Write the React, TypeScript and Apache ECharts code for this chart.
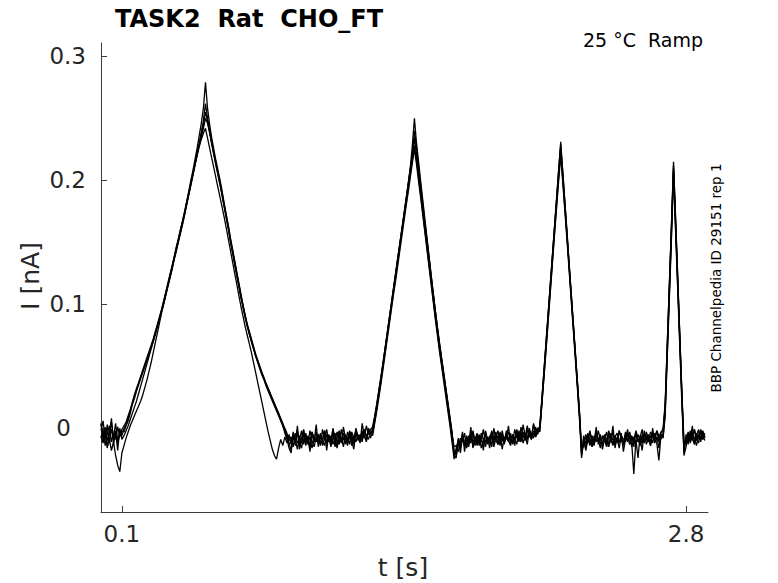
import React, { useEffect, useRef } from "react";
import * as echarts from "echarts";

// Sample step of the recorded traces (seconds); values below are in pA (1e-3 nA).
const SAMPLE_STEP_S = 0.01;

// Each trace: list of [segment start time (s), sampled values (pA)]
const TRACE_A: [number, number[]][] = [
  [0.0, [-2, 6, -9, 3, -12, -1, -7, 4, -10, -3, -6]],
  [0.11, [0, 3, 8, 14, 20, 26, 31, 36, 41, 46, 51, 56, 61, 66, 71, 77, 83, 89, 95, 102, 109, 116, 123, 130, 138, 145, 152, 160, 167, 175, 183, 191, 200, 208, 217, 226, 236, 246, 258, 279, 258, 245, 234, 225, 216, 208, 200, 191, 181, 172, 163, 153, 144, 135, 126, 117, 108, 99, 91, 83, 77, 71, 65, 59, 54, 49, 44, 40, 35, 31, 27, 23, 19, 15, 11, 7, 3, 0, -4, -12]],
  [0.91, [-18, -6, -14, -3, -11, -16, -5, -9, -13, -2, -10, -15, -7, -12, -4, -14, -8, -1, -11, -6, -13, -9, -3, -12, -7, -15, -5, -10, -2, -8, -13, -4, -9, -6, -11, -1, -7, -3, -8]],
  [1.3, [-2, 8, 18, 29, 40, 52, 64, 76, 88, 100, 112, 124, 136, 148, 160, 172, 184, 197, 210, 228, 250, 230, 215, 199, 184, 169, 154, 139, 124, 109, 95, 81, 68, 56, 44, 32, 20, 8, -4, -18]],
  [1.7, [-22, -12, -16, -7, -13, -9, -15, -4, -11, -8, -14, -5, -10, -13, -3, -9, -12, -6, -15, -8, -2, -11, -7, -13, -4, -9, -6, -12, -1, -8, -5, -10, -3, -7, 2, -6, -9, -2, -5, 0]],
  [2.1, [0, 22, 45, 68, 91, 114, 137, 160, 183, 207, 231, 207, 183, 159, 134, 110, 86, 62, 38, 13, -16]],
  [2.31, [-10, -17, -6, -12, -8, -14, -3, -11, -7, -13, -5, -9, -15, -4, -10, -8, -12, -2, -9, -14, -6, -11, -3, -10, -7, -13, -5, -9, -12, -4, -8, -11, -3, -7, -10, -2, -6, -9]],
  [2.69, [-4, 18, 67, 115, 163, 215, 168, 121, 74, 27, -14]],
  [2.8, [-9, -3, -12, -6, -1, -10, -5, -8, -2, -7]],
];

const TRACE_B: [number, number[]][] = [
  [0.0, [-8, -1, -14, -5, 2, -11, -4, -9, 1, -7, -2]],
  [0.11, [-3, 2, 6, 12, 19, 24, 30, 35, 40, 45, 50, 55, 60, 65, 70, 76, 82, 88, 94, 101, 108, 115, 122, 129, 137, 144, 151, 158, 166, 173, 181, 189, 197, 205, 213, 222, 230, 239, 248, 262, 250, 240, 231, 222, 214, 206, 198, 189, 180, 171, 162, 152, 143, 134, 125, 116, 107, 99, 91, 84, 78, 72, 66, 60, 55, 50, 45, 41, 36, 32, 28, 24, 20, 16, 12, 8, 4, -1, -6, -10]],
  [0.91, [-7, -15, -4, -12, -9, -2, -13, -6, -10, -16, -3, -8, -11, -5, -14, -1, -9, -12, -6, -10, -4, -15, -7, -2, -11, -8, -13, -3, -9, -5, -12, 0, -7, -10, -4, -8, 2, -5, -1]],
  [1.3, [1, 10, 20, 31, 42, 53, 65, 77, 89, 101, 113, 125, 137, 149, 160, 172, 184, 196, 208, 220, 234, 221, 207, 193, 179, 165, 151, 137, 122, 108, 94, 80, 67, 55, 43, 31, 19, 7, -6, -15]],
  [1.7, [-14, -19, -8, -11, -4, -15, -7, -12, -2, -10, -6, -13, -9, -1, -12, -7, -16, -5, -9, -3, -13, -8, -5, -11, -2, -10, -14, -6, -8, -3, -11, 1, -7, -4, -9, -1, -6, 3, -4, -2]],
  [2.1, [-2, 20, 42, 65, 88, 111, 134, 157, 180, 202, 224, 201, 178, 155, 131, 107, 83, 59, 35, 10, -18]],
  [2.31, [-14, -7, -11, -3, -9, -13, -5, -10, -16, -6, -8, -12, -2, -9, -14, -7, -4, -11, -8, -13, -3, -10, -6, -15, -9, -5, -11, -7, -1, -12, -6, -9, -14, -4, -8, -2, -11, -5]],
  [2.69, [-7, 12, 60, 108, 156, 208, 162, 116, 70, 24, -18]],
  [2.8, [-5, -11, -2, -8, -13, -4, -9, -1, -6, -10]],
];

const TRACE_C: [number, number[]][] = [
  [0.0, [3, -6, -1, -10, -4, 5, -8, -2, -12, -5, -1]],
  [0.11, [2, 5, 10, 15, 21, 27, 32, 37, 42, 47, 52, 57, 62, 67, 72, 78, 84, 90, 96, 103, 110, 117, 124, 131, 138, 146, 153, 160, 167, 174, 182, 190, 198, 206, 214, 221, 228, 235, 242, 250, 246, 238, 229, 221, 213, 205, 197, 188, 179, 170, 161, 151, 142, 133, 124, 115, 106, 98, 90, 83, 76, 70, 64, 58, 53, 48, 43, 39, 34, 30, 26, 22, 18, 14, 10, 6, 2, -2, -7, -13]],
  [0.91, [-11, -4, -9, -17, -6, -12, -2, -10, -7, -14, -3, -11, -8, -5, -13, -9, -2, -12, -6, -15, -8, -4, -10, -13, -1, -9, -6, -11, -4, -14, -7, -2, -10, -5, -8, -1, -6, -9, -3]],
  [1.3, [-4, 6, 16, 27, 38, 50, 62, 74, 86, 98, 110, 122, 134, 146, 158, 170, 181, 193, 205, 216, 228, 216, 202, 188, 174, 160, 146, 132, 118, 104, 90, 77, 64, 52, 41, 29, 17, 5, -8, -21]],
  [1.7, [-18, -9, -13, -5, -11, -16, -6, -10, -3, -14, -8, -12, -4, -9, -15, -7, -11, -2, -10, -6, -13, -4, -9, -12, -7, -3, -11, -5, -9, -13, -2, -8, -6, -10, -1, -7, -4, -8, 1, -5]],
  [2.1, [1, 23, 46, 69, 92, 115, 138, 161, 183, 205, 226, 203, 180, 156, 132, 108, 84, 60, 36, 11, -20]],
  [2.31, [-8, -13, -4, -10, -15, -6, -11, -2, -9, -12, -7, -14, -5, -10, -3, -12, -8, -16, -6, -9, -11, -4, -13, -7, -10, -2, -8, -14, -5, -11, -3, -9, -6, -12, -4, -10, -7, -3]],
  [2.69, [-2, 16, 64, 112, 160, 210, 165, 119, 73, 28, -10]],
  [2.8, [-12, -6, -10, -3, -8, -14, -5, -2, -9, -4]],
];

const TRACE_D: [number, number[]][] = [
  [0.0, [-6, -12, -3, -15, -9, -18, -11, -22, -30, -35, -20]],
  [0.11, [-14, -8, -3, 2, 6, 10, 14, 18, 22, 27, 33, 39, 46, 53, 61, 69, 77, 85, 93, 100, 107, 114, 121, 128, 136, 143, 150, 157, 164, 172, 180, 188, 196, 204, 212, 220, 227, 233, 238, 242, 234, 226, 218, 210, 202, 194, 186, 178, 170, 161, 152, 143, 134, 125, 116, 107, 98, 90, 82, 75, 68, 61, 53, 45, 37, 29, 21, 13, 5, -3, -10, -17, -22, -25, -16, -9, -14, -7, -12, -5]],
  [0.91, [-13, -6, -10, -2, -15, -8, -11, -4, -12, -7, -16, -9, -3, -13, -6, -10, -14, -5, -8, -12, -1, -9, -15, -6, -11, -4, -10, -7, -13, -3, -8, -11, -5, -9, -2, -6, -10, 0, -4]],
  [1.3, [-6, 4, 14, 25, 36, 48, 60, 72, 84, 96, 108, 119, 131, 143, 155, 167, 179, 190, 202, 214, 225, 213, 199, 186, 172, 158, 144, 130, 116, 102, 88, 75, 62, 50, 38, 26, 14, 2, -11, -25]],
  [1.7, [-16, -10, -20, -7, -14, -9, -12, -4, -15, -8, -11, -6, -16, -10, -5, -13, -8, -3, -12, -9, -6, -14, -2, -10, -7, -11, -4, -13, -8, -5, -10, -3, -12, -6, -9, 0, -8, -4, -7, -1]],
  [2.1, [-3, 19, 41, 63, 86, 109, 132, 155, 177, 199, 220, 198, 175, 152, 128, 104, 80, 56, 32, 7, -22]],
  [2.31, [-12, -5, -9, -14, -6, -11, -3, -8, -13, -7, -10, -15, -4, -9, -12, -6, -11, -2, -8, -13, -5, -10, -7, -12, -37, -9, -24, -6, -11, -4, -13, -8, -10, -3, -9, -12, -26, -5]],
  [2.69, [-8, 10, 57, 104, 152, 205, 158, 112, 66, 20, -20]],
  [2.8, [-7, -13, -4, -10, -1, -8, -12, -3, -9, -6]],
];

const TRACE_E: [number, number[]][] = [
  [0.0, [4, -10, 1, -16, -5, 8, -13, -3, -18, 0, -9]],
  [0.11, [-6, -2, 2, 7, 12, 17, 22, 28, 34, 40, 46, 52, 58, 64, 70, 76, 82, 88, 95, 101, 108, 115, 122, 129, 136, 143, 151, 158, 165, 173, 181, 189, 197, 205, 213, 221, 229, 237, 245, 255, 248, 239, 230, 221, 212, 204, 196, 187, 178, 169, 160, 150, 141, 132, 123, 114, 105, 97, 89, 82, 76, 70, 64, 59, 54, 49, 45, 40, 36, 32, 28, 24, 20, 16, 12, 7, 2, -4, -9, -16]],
  [0.91, [-20, -3, -12, 2, -17, -8, -1, -14, -6, -19, -4, -11, 3, -15, -7, -10, -2, -18, -5, -13, 0, -9, -16, -4, -12, 1, -8, -14, -3, -10, -17, -2, -7, -12, 4, -6, -11, -1, -5]],
  [1.3, [0, 9, 19, 30, 41, 53, 65, 77, 89, 101, 113, 125, 137, 149, 161, 173, 185, 197, 209, 221, 240, 226, 211, 196, 181, 166, 152, 137, 123, 109, 95, 82, 69, 57, 45, 33, 21, 9, -3, -22]],
  [1.7, [-24, -8, -15, -3, -19, -6, -12, 1, -16, -9, -4, -14, -7, -18, -2, -11, -6, -15, 0, -10, -13, -3, -17, -7, -9, 2, -12, -5, -14, -1, -8, -11, 3, -6, -13, -2, -9, 4, -7, -3]],
  [2.1, [2, 24, 47, 70, 93, 116, 139, 162, 185, 208, 229, 206, 182, 158, 133, 109, 85, 61, 37, 12, -24]],
  [2.31, [-6, -18, -9, -2, -15, -11, 1, -13, -5, -17, -8, -3, -14, -10, 2, -16, -7, -12, -4, -19, -9, -1, -13, -6, -15, -3, -11, -8, -18, -2, -10, -5, -14, 0, -12, -7, -16, -4]],
  [2.69, [0, 20, 68, 116, 164, 212, 170, 123, 76, 30, -22]],
  [2.8, [-15, -4, -10, 2, -13, -6, -1, -11, -3, -8]],
];

const TRACES = [TRACE_A, TRACE_B, TRACE_C, TRACE_D, TRACE_E];
const X_TICKS = [0.1, 2.8];
const Y_TICKS = [0, 0.1, 0.2, 0.3];

const FONT = "DejaVu Sans";
const TXT = "#262626";
const AXC = "#3c3c3c";

function toPoints(segs: [number, number[]][]) {
  const pts: number[][] = [];
  for (const [t0, vals] of segs) {
    vals.forEach((v, k) => {
      pts.push([Math.round((t0 + k * SAMPLE_STEP_S) * 1000) / 1000, v / 1000]);
    });
  }
  return pts;
}

export default function App() {
  const ref = useRef<HTMLDivElement>(null);
  useEffect(() => {
    document.body.style.margin = "0";
    const chart = echarts.init(ref.current!, null, { renderer: "svg" });
    chart.setOption({
      animation: false,
      backgroundColor: "#ffffff",
      grid: { left: 101, right: 70, top: 43, bottom: 71, containLabel: false },
      xAxis: {
        type: "value",
        min: 0,
        max: 2.905,
        axisLine: { show: true, onZero: false, lineStyle: { color: AXC, width: 1 } },
        axisTick: { show: true, inside: true, length: 6, customValues: X_TICKS, lineStyle: { color: AXC } },
        axisLabel: {
          customValues: X_TICKS,
          fontSize: 23,
          fontFamily: FONT,
          color: TXT,
          margin: 10,
          formatter: (v: number) => String(v),
        },
        splitLine: { show: false },
      },
      yAxis: {
        type: "value",
        min: -0.0676,
        max: 0.3108,
        axisLine: { show: true, onZero: false, lineStyle: { color: AXC, width: 1 } },
        axisTick: { show: true, inside: true, length: 6, customValues: Y_TICKS, lineStyle: { color: AXC } },
        axisLabel: {
          customValues: Y_TICKS,
          fontSize: 23,
          fontFamily: FONT,
          color: TXT,
          margin: 15,
          formatter: (v: number) => (v === 0 ? "{z|0}" : String(v)),
          rich: { z: { fontSize: 23, fontFamily: FONT, color: TXT, padding: [0, 15, 0, 0] } },
        },
        splitLine: { show: false },
      },
      series: TRACES.map((tr, i) => ({
        name: "trace" + (i + 1),
        type: "line",
        data: toPoints(tr),
        showSymbol: false,
        symbol: "none",
        silent: true,
        lineStyle: { color: "#000000", width: 1.3 },
        z: 2,
      })),
      graphic: [
        {
          type: "text",
          x: 115,
          y: 18.5,
          style: { text: "TASK2  Rat  CHO_FT", fontSize: 24, fontWeight: "bold", fontFamily: FONT, fill: "#000", verticalAlign: "middle", align: "left" },
        },
        {
          type: "text",
          x: 703,
          y: 40,
          style: { text: "25 °C  Ramp", fontSize: 19, fontFamily: FONT, fill: "#000", verticalAlign: "middle", align: "right" },
        },
        {
          type: "text",
          x: 716,
          y: 278,
          rotation: Math.PI / 2,
          style: { text: "BBP Channelpedia ID 29151 rep 1", fontSize: 13.5, fontFamily: FONT, fill: "#000", verticalAlign: "middle", align: "center" },
        },
        {
          type: "text",
          x: 30,
          y: 276,
          rotation: Math.PI / 2,
          style: { text: "I [nA]", fontSize: 25, fontFamily: FONT, fill: TXT, verticalAlign: "middle", align: "center" },
        },
        {
          type: "text",
          x: 403,
          y: 567,
          style: { text: "t [s]", fontSize: 25, fontFamily: FONT, fill: TXT, verticalAlign: "middle", align: "center" },
        },
      ],
    });
    return () => chart.dispose();
  }, []);
  return <div ref={ref} style={{ width: 778, height: 583 }} />;
}
